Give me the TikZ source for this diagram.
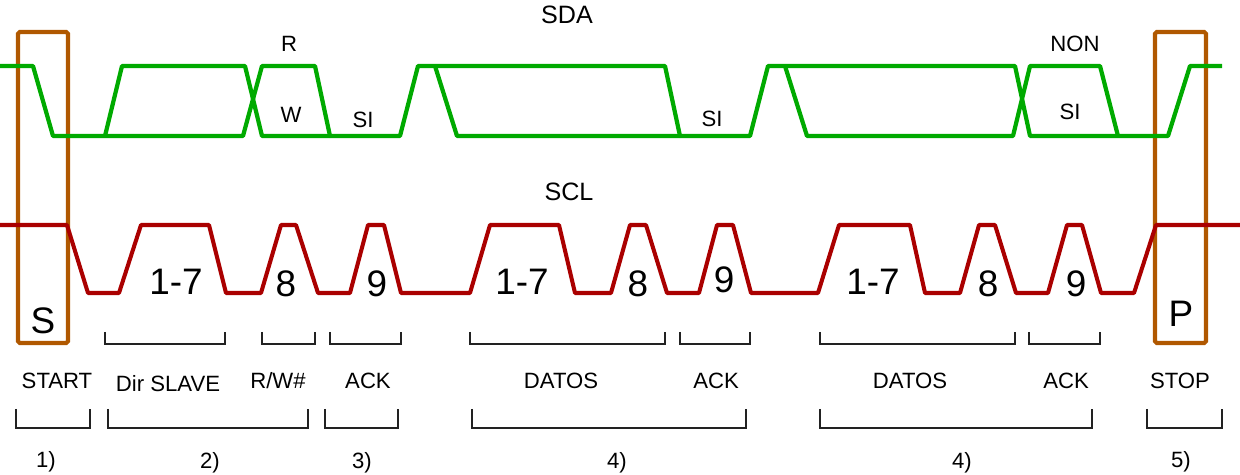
\documentclass[tikz,border=0pt]{standalone}
\usepackage{fontspec}
\setmainfont{Liberation Sans}
\definecolor{sdagreen}{RGB}{0,170,0}
\definecolor{sclred}{RGB}{170,0,0}
\definecolor{boxorange}{RGB}{176,88,0}
\definecolor{brackgray}{RGB}{34,34,34}

\begin{document}
\begin{tikzpicture}[x=0.02cm,y=-0.02cm,
  sda/.style={sdagreen, line width=2.4pt, line join=round},
  scl/.style={sclred, line width=2.3pt, line join=round},
  mark box/.style={boxorange, line width=2.3pt, rounded corners=1pt},
  bracket/.style={brackgray, line width=1.1pt},
  small/.style={font=\fontsize{12.6}{15}\selectfont, inner sep=0pt},
  big/.style={font=\fontsize{21}{24}\selectfont, inner sep=0pt},
  title/.style={font=\fontsize{14.3}{17}\selectfont, inner sep=0pt}]
\useasboundingbox (0,0) rectangle (1240,475);

% START and STOP boxes
  \draw[mark box] (18,32) rectangle (68,343);
  \draw[mark box] (1155,32) rectangle (1206,343);

% SDA line
  \node[title] (sda) at (567,15) {SDA};
  \draw[sda] (0,66) -- (33,66) -- (53,136) -- (243,136) -- (262,66) -- (315,66)
    -- (330,136) -- (400,136) -- (418,66) -- (665,66) -- (680,136) -- (750,136)
    -- (768,66) -- (1015,66) -- (1030,136) -- (1168,136) -- (1190,66) -- (1222,66);
  \draw[sda] (105,136) -- (122,66) -- (245,66) -- (262,136) -- (330,136);
  \draw[sda] (435,66) -- (457,136) -- (680,136);
  \draw[sda] (785,66) -- (807,136) -- (1013,136) -- (1030,66) -- (1100,66) -- (1118,136);

  \node[small] (rbit) at (289,44) {R};
  \node[small] (wbit) at (291,115) {W};
  \node[small] (si1) at (363,120) {SI};
  \node[small] (si2) at (712,119) {SI};
  \node[small] (non) at (1075,44) {NON};
  \node[small] (si3) at (1070,112) {SI};

% SCL line
  \node[title] (scl) at (569,192) {SCL};
  \draw[scl] (0,225) -- (67,225) -- (88,293) -- (119,293) -- (141,225) -- (209,225)
    -- (226,293) -- (261,293) -- (281,225) -- (296,225) -- (318,293) -- (350,293)
    -- (368,225) -- (384,225) -- (401,293) -- (470,293) -- (490,225) -- (559,225)
    -- (575,293) -- (611,293) -- (630,225) -- (646,225) -- (667,293) -- (699,293)
    -- (717,225) -- (733,225) -- (751,293) -- (818,293) -- (839,225) -- (910,225)
    -- (925,293) -- (960,293) -- (979,225) -- (995,225) -- (1016,293) -- (1048,293)
    -- (1067,225) -- (1082,225) -- (1101,293) -- (1134,293) -- (1156,225) -- (1240,225);

  \node[big] (s) at (43,321) {S};
  \node[big] (p) at (1181,314) {P};
  \node[big] (dirbits) at (176,282) {1-7};
  \node[big] (rwbit) at (286,284) {8};
  \node[big] (ackbit) at (377,284) {9};
  \node[big] (databitsa) at (522,282) {1-7};
  \node[big] (lastbita) at (638,284) {8};
  \node[big] (ackbita) at (724,280) {9};
  \node[big] (databitsb) at (873,282) {1-7};
  \node[big] (lastbitb) at (988,284) {8};
  \node[big] (ackbitb) at (1076,284) {9};

% upper brackets
  \draw[bracket] (105,332) -- (105,344) -- (225,344) -- (225,332);
  \draw[bracket] (262,332) -- (262,344) -- (315,344) -- (315,332);
  \draw[bracket] (330,332) -- (330,344) -- (401,344) -- (401,332);
  \draw[bracket] (470,332) -- (470,344) -- (665,344) -- (665,332);
  \draw[bracket] (680,332) -- (680,344) -- (750,344) -- (750,332);
  \draw[bracket] (820,332) -- (820,344) -- (1015,344) -- (1015,332);
  \draw[bracket] (1029,332) -- (1029,344) -- (1100,344) -- (1100,332);

  \node[small] (start) at (57,381) {START};
  \node[small] (dirslave) at (168,384) {Dir SLAVE};
  \node[small] (rw) at (278,381) {R/W\#};
  \node[small] (ack1) at (368,381) {ACK};
  \node[small] (datos1) at (561,381) {DATOS};
  \node[small] (ack2) at (716,381) {ACK};
  \node[small] (datos2) at (910,381) {DATOS};
  \node[small] (ack3) at (1066,381) {ACK};
  \node[small] (stop) at (1180,381) {STOP};

% lower brackets
  \draw[bracket] (16,409) -- (16,428) -- (90,428) -- (90,409);
  \draw[bracket] (108,409) -- (108,428) -- (308,428) -- (308,409);
  \draw[bracket] (325,409) -- (325,428) -- (398,428) -- (398,409);
  \draw[bracket] (472,409) -- (472,428) -- (746,428) -- (746,409);
  \draw[bracket] (820,409) -- (820,428) -- (1092,428) -- (1092,409);
  \draw[bracket] (1147,409) -- (1147,428) -- (1222,428) -- (1222,409);

  \node[small] (step1) at (46,462) {1)};
  \node[small] (step2) at (210,463) {2)};
  \node[small] (step3) at (362,463) {3)};
  \node[small] (step4a) at (617,463) {4)};
  \node[small] (step4b) at (962,463) {4)};
  \node[small] (step5) at (1181,462) {5)};
\end{tikzpicture}
\end{document}
